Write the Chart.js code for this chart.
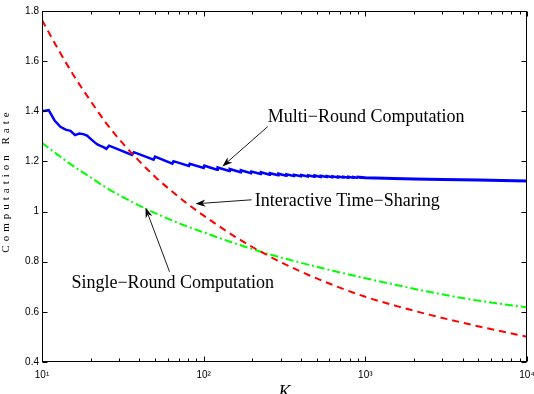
<!DOCTYPE html>
<html><head><meta charset="utf-8">
<script src="https://cdn.jsdelivr.net/npm/chart.js@4.4.0/dist/chart.umd.min.js"></script>
<style>html,body{margin:0;padding:0;background:#fff;}#wrap{width:534px;height:394px;position:relative;}</style>
</head><body><div id="wrap"><canvas id="c" width="534" height="394"></canvas></div>
<script>
// ---- data ----
const K_SMOOTH = [10,12.6,15.8,20,25,31.6,40,50,63,79,100,158,251,398,631,1000,1585,2512,3981,6310,10000];
const INTERACTIVE = [1.764,1.647,1.540,1.441,1.352,1.272,1.201,1.139,1.083,1.032,0.984,0.898,0.824,0.761,0.707,0.660,0.622,0.588,0.557,0.528,0.501];
const SINGLE = [1.274,1.225,1.179,1.136,1.095,1.058,1.024,0.994,0.966,0.941,0.917,0.872,0.831,0.796,0.764,0.734,0.706,0.679,0.655,0.635,0.618];
const K_MULTI = [10,11,12,13,14,15,16,17,18,19,20,21,22,23,24,25,26,
  36,37,49,50,64,65,81,82,100,101,121,122,144,145,169,170,196,197,225,226,256,257,289,290,
  324,325,361,362,400,401,441,442,484,485,529,530,576,577,625,626,676,677,729,730,784,785,841,842,900,901,
  1000,1500,2000,3000,5000,7000,10000];
const MULTI = [1.400,1.405,1.362,1.338,1.327,1.322,1.305,1.311,1.309,1.303,1.290,1.278,1.268,1.262,1.257,1.250,1.263,
  1.226,1.237,1.207,1.219,1.191,1.201,1.182,1.191,1.174,1.183,1.167,1.176,1.162,1.170,1.157,1.165,1.153,1.160,1.150,1.157,1.147,1.153,1.145,1.151,
  1.143,1.149,1.142,1.147,1.141,1.146,1.140,1.145,1.139,1.144,1.138,1.143,1.138,1.142,1.137,1.141,1.136,1.140,1.136,1.139,1.135,1.139,1.135,1.138,1.134,1.137,
  1.135,1.132,1.130,1.128,1.126,1.124,1.122];
const X_MAJOR = [10,100,1000,10000];
const X_LABELS = ['10\u00B9','10\u00B2','10\u00B3','10\u2074'];
const X_MINOR = [20,30,40,50,60,70,80,90,200,300,400,500,600,700,800,900,2000,3000,4000,5000,6000,7000,8000,9000];
const Y_TICKS = [0.4,0.6,0.8,1.0,1.2,1.4,1.6,1.8];
const Y_LABELS = ['0.4','0.6','0.8','1','1.2','1.4','1.6','1.8'];
const X_TITLE = 'K';
const Y_TITLE = 'Computation Rate';
// annotations: [text, labelK, labelValue, tailK, tailValue, headK, headValue]
const NOTES = [
  ['Multi\u2212Round Computation', 249, 1.378, 249, 1.339, 130.6, 1.180],
  ['Interactive Time\u2212Sharing', 207, 1.043, 198, 1.047, 89, 1.031],
  ['Single\u2212Round Computation', 15.2, 0.715, 61.5, 0.760, 43.7, 1.015]
];

const pts = (ks, vs) => ks.map((k, i) => ({x: k, y: vs[i]}));

function arrow(ctx, x0, y0, x1, y1) {
  const a = Math.atan2(y1 - y0, x1 - x0);
  const L = 10, W = 3.6, N = 7;
  ctx.beginPath(); ctx.moveTo(x0, y0);
  ctx.lineTo(x1 - Math.cos(a) * N, y1 - Math.sin(a) * N); ctx.stroke();
  const bx = x1 - Math.cos(a) * L, by = y1 - Math.sin(a) * L;
  const nx = -Math.sin(a), ny = Math.cos(a);
  ctx.beginPath();
  ctx.moveTo(x1, y1);
  ctx.lineTo(bx + nx * W, by + ny * W);
  ctx.lineTo(x1 - Math.cos(a) * N, y1 - Math.sin(a) * N);
  ctx.lineTo(bx - nx * W, by - ny * W);
  ctx.closePath(); ctx.fill();
}

const frame = {
  id: 'frame',
  afterDraw(chart) {
    const {ctx, chartArea: a, scales: {x, y}} = chart;
    ctx.save();
    ctx.strokeStyle = '#000'; ctx.fillStyle = '#000'; ctx.lineWidth = 1;
    const L = Math.round(a.left) + 0.5, R = Math.round(a.right) - 0.5, T = Math.round(a.top) + 0.5, B = Math.round(a.bottom) - 0.5;
    ctx.strokeRect(L, T, R - L, B - T);
    ctx.beginPath();
    Y_TICKS.forEach(v => { const p = Math.round(y.getPixelForValue(v)) + 0.5;
      ctx.moveTo(L, p); ctx.lineTo(L + 5, p); ctx.moveTo(R, p); ctx.lineTo(R - 5, p); });
    X_MAJOR.forEach(v => { const p = Math.round(x.getPixelForValue(v)) + 0.5;
      ctx.moveTo(p, B); ctx.lineTo(p, B - 5); ctx.moveTo(p, T); ctx.lineTo(p, T + 5); });
    X_MINOR.forEach(v => { const p = Math.round(x.getPixelForValue(v)) + 0.5;
      ctx.moveTo(p, B); ctx.lineTo(p, B - 3); ctx.moveTo(p, T); ctx.lineTo(p, T + 3); });
    ctx.stroke();
    // annotations
    ctx.font = "18px 'Liberation Serif'"; ctx.textBaseline = 'middle'; ctx.textAlign = 'left';
    ctx.lineWidth = 0.9;
    NOTES.forEach(n => {
      ctx.fillText(n[0], x.getPixelForValue(n[1]), y.getPixelForValue(n[2]));
      arrow(ctx, x.getPixelForValue(n[3]), y.getPixelForValue(n[4]), x.getPixelForValue(n[5]), y.getPixelForValue(n[6]));
    });
    // x title
    ctx.font = "italic 18px 'Liberation Serif'"; ctx.textAlign = 'center'; ctx.textBaseline = 'alphabetic';
    ctx.fillText(X_TITLE, (a.left + a.right) / 2, 398);
    // y title (spaced letters)
    ctx.font = "11px 'Liberation Serif'"; ctx.textAlign = 'left';
    const sp = 4; const chars = [...Y_TITLE];
    const total = chars.reduce((s, c) => s + ctx.measureText(c).width, 0) + sp * (chars.length - 1);
    ctx.translate(8.5, (a.top + a.bottom) / 2 - 4); ctx.rotate(-Math.PI / 2);
    let cx = -total / 2;
    chars.forEach(c => { ctx.fillText(c, cx, 0); cx += ctx.measureText(c).width + sp; });
    ctx.restore();
  }
};

new Chart(document.getElementById('c').getContext('2d'), {
  type: 'line',
  data: { datasets: [
    { label: 'Interactive Time-Sharing', data: pts(K_SMOOTH, INTERACTIVE), borderColor: '#ff0000', borderWidth: 2, borderDash: [7, 5],
      pointRadius: 0, cubicInterpolationMode: 'monotone', order: 0 },
    { label: 'Multi-Round Computation', data: pts(K_MULTI, MULTI), borderColor: '#0000ff', borderWidth: 2.5,
      pointRadius: 0, tension: 0, order: 1, segment: { borderWidth: c => c.p0.parsed.x >= 900 ? 3.2 : 2.5 } },
    { label: 'Single-Round Computation', data: pts(K_SMOOTH, SINGLE), borderColor: '#00ff00', borderWidth: 2, borderDash: [8, 3, 2, 3],
      pointRadius: 0, cubicInterpolationMode: 'monotone', order: 2 }
  ]},
  options: {
    responsive: false, animation: false, devicePixelRatio: 1,
    layout: { padding: { top: 11, right: 7, left: 0, bottom: 0 } },
    plugins: { legend: { display: false }, tooltip: { enabled: false } },
    scales: {
      x: { type: 'logarithmic', min: 10, max: 10000,
        grid: { display: false, drawTicks: false }, border: { display: false },
        afterBuildTicks: s => { s.ticks = X_MAJOR.map(v => ({ value: v })); },
        afterFit: s => { s.height = 32; s.paddingLeft = 0; s.paddingRight = 0; },
        ticks: { autoSkip: false, maxRotation: 0, padding: 7, color: '#000',
          font: { family: 'Liberation Sans', size: 10 },
          callback: v => X_LABELS[X_MAJOR.indexOf(v)] } },
      y: { min: 0.4, max: 1.8,
        grid: { display: false, drawTicks: false }, border: { display: false },
        afterBuildTicks: s => { s.ticks = Y_TICKS.map(v => ({ value: v })); },
        afterFit: s => { s.width = 42; },
        ticks: { padding: 3, color: '#000', font: { family: 'Liberation Sans', size: 10 },
          callback: v => Y_LABELS[Y_TICKS.findIndex(t => Math.abs(t - v) < 1e-6)] } }
    }
  },
  plugins: [frame]
});
</script></body></html>
